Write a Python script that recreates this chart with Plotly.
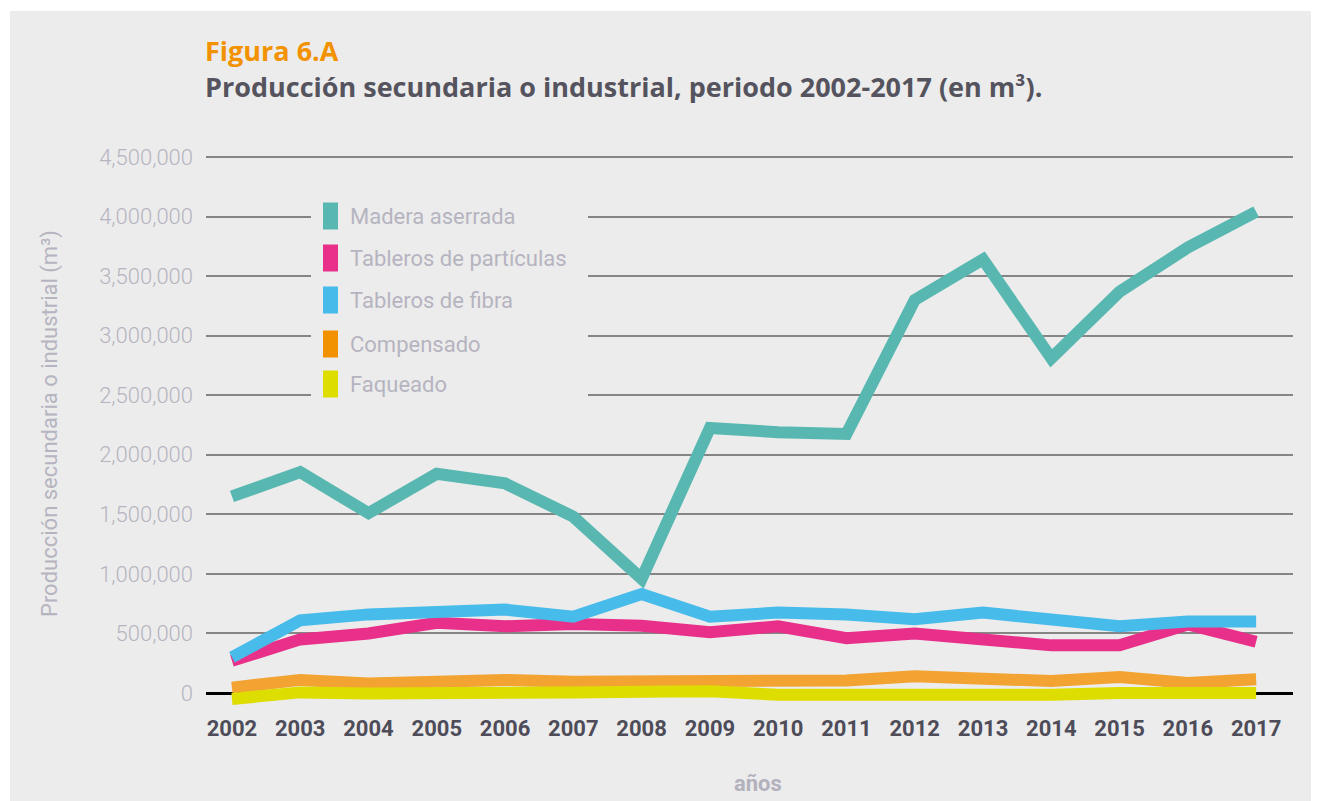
import plotly.graph_objects as go

years = list(range(2002, 2018))
madera_aserrada = [1650000, 1855000, 1510000, 1840000, 1760000, 1480000, 960000, 2225000,
                   2190000, 2175000, 3300000, 3640000, 2810000, 3370000, 3740000, 4040000]
tableros_particulas = [270000, 450000, 500000, 590000, 560000, 580000, 565000, 510000,
                       560000, 460000, 500000, 450000, 400000, 400000, 575000, 430000]
tableros_fibra = [300000, 610000, 660000, 670000, 700000, 640000, 830000, 640000,
                  675000, 660000, 620000, 675000, 630000, 560000, 600000, 600000]
compensado = [45000, 110000, 80000, 100000, 110000, 95000, 100000, 85000,
              105000, 105000, 140000, 125000, 100000, 135000, 85000, 115000]
faqueado = [-50000, 5000, -5000, 5000, 10000, 5000, 10000, 15000,
            -15000, -15000, -15000, -30000, -15000, 0, 0, 0]

series_names = ["Madera aserrada", "Tableros de partículas", "Tableros de fibra", "Compensado", "Faqueado"]
series_values = [madera_aserrada, tableros_particulas, tableros_fibra, compensado, faqueado]
series_colors = ["#58b8b1", "#e8308a", "#47bbea", "#f2a332", "#dedd00"]
legend_colors = ["#58b8b1", "#e8308a", "#47bbea", "#f39200", "#dedd00"]

y_ticks = [0, 500000, 1000000, 1500000, 2000000, 2500000, 3000000, 3500000, 4000000, 4500000]
y_ticklabels = ["0", "500,000", "1,000,000", "1,500,000", "2,000,000", "2,500,000",
                "3,000,000", "3,500,000", "4,000,000", "4,500,000"]

# page body has an 8px margin; screen coordinates = figure coordinates + 8
OFF = 8
W, H = 1311, 793
ML, MR, MT, MB = 198, 26, 142, 96
PW, PH = W - ML - MR, H - MT - MB


def px_x(sx):
    return (sx - OFF - ML) / PW


def px_y(sy):
    return (H - MB - (sy - OFF)) / PH


TFONT = "Open Sans"
FONT = "Roboto"
LIGHT = "#b6b4c0"

fig = go.Figure()
for name, vals, col in zip(series_names, series_values, series_colors):
    fig.add_trace(go.Scatter(x=years, y=vals, mode="lines", name=name,
                             line=dict(color=col, width=12), showlegend=False,
                             hoverinfo="x+y+name"))

shapes = [
    dict(type="rect", xref="paper", yref="paper", x0=px_x(0), x1=px_x(10), y0=px_y(820), y1=px_y(0),
         fillcolor="white", line_width=0, layer="below"),
    dict(type="rect", xref="paper", yref="paper", x0=px_x(0), x1=px_x(1330), y0=px_y(11), y1=px_y(0),
         fillcolor="white", line_width=0, layer="below"),
    dict(type="rect", xref="paper", yref="paper", x0=px_x(311), x1=px_x(588), y0=px_y(405), y1=px_y(198),
         fillcolor="#ececec", line_width=0, layer="above"),
]
annotations = []
legend_centers = [216, 258, 300, 344, 384]
for name, col, cy in zip(series_names, legend_colors, legend_centers):
    shapes.append(dict(type="rect", xref="paper", yref="paper", x0=px_x(323), x1=px_x(338),
                       y0=px_y(cy + 13.5), y1=px_y(cy - 13.5), fillcolor=col, line_width=0, layer="above"))
    annotations.append(dict(text=name, xref="paper", yref="paper", x=px_x(348), y=px_y(cy),
                            xanchor="left", yanchor="middle", showarrow=False,
                            font=dict(family=FONT, size=22, color=LIGHT)))

annotations += [
    dict(text="<b>Figura 6.A</b>", xref="paper", yref="paper", x=px_x(203), y=px_y(50),
         xanchor="left", yanchor="middle", showarrow=False,
         font=dict(family=TFONT, size=27, color="#f39200")),
    dict(text="<b>Producción secundaria o industrial, periodo 2002-2017 (en m³).</b>",
         xref="paper", yref="paper", x=px_x(203), y=px_y(86),
         xanchor="left", yanchor="middle", showarrow=False,
         font=dict(family=TFONT, size=27, color="#55545e")),
    dict(text="Producción secundaria o industrial (m³)", xref="paper", yref="paper",
         x=px_x(50), y=px_y(424), xanchor="center", yanchor="middle", textangle=-90,
         showarrow=False, font=dict(family=FONT, size=22, color=LIGHT)),
    dict(text="<b>años</b>", xref="paper", yref="paper", x=px_x(758), y=px_y(784),
         xanchor="center", yanchor="middle", showarrow=False,
         font=dict(family=FONT, size=22, color="#b3b1bd")),
]

fig.update_layout(
    width=W, height=H,
    margin=dict(l=ML, r=MR, t=MT, b=MB, pad=0),
    paper_bgcolor="#ececec", plot_bgcolor="#ececec",
    shapes=shapes, annotations=annotations,
    showlegend=False,
    xaxis=dict(range=[2001.62, 2017.54], tickvals=years, ticktext=[str(y) for y in years],
               showgrid=False, zeroline=False, showline=False, ticks="",
               ticklabelstandoff=8,
               tickfont=dict(family=FONT, size=22, color="#4e4c58", weight="bold"),
               fixedrange=True),
    yaxis=dict(range=[-100750, 4558800], tickvals=y_ticks, ticktext=y_ticklabels,
               showgrid=True, gridcolor="#858585", gridwidth=1.5,
               zeroline=True, zerolinecolor="#000000", zerolinewidth=2.5,
               showline=False, ticks="", ticklabelstandoff=12,
               tickfont=dict(family=FONT, size=22, color=LIGHT, weight=300),
               fixedrange=True),
)

fig.write_html("out.html")
